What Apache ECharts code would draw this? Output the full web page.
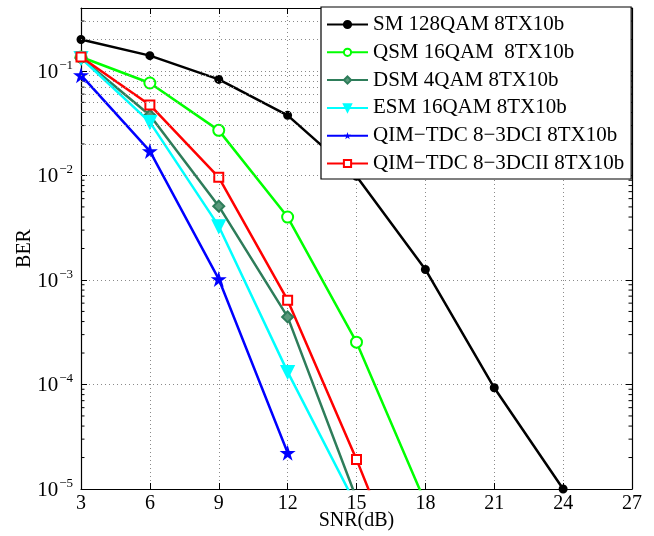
<!DOCTYPE html>
<html>
<head>
<meta charset="utf-8">
<script src="https://cdn.jsdelivr.net/npm/echarts@6/dist/echarts.min.js"></script>
<style>
  html, body { margin: 0; padding: 0; background: #fff; }
  #chart { width: 654px; height: 536px; }
</style>
</head>
<body>
<div id="chart"></div>
<script>
// SNR sweep (dB) and tick values
const snr = [3, 6, 9, 12, 15, 18, 21, 24];
const xTicks = [3, 6, 9, 12, 15, 18, 21, 24, 27];

// Bit error rate per scheme (last points of the steep curves run past the bottom edge)
const berSM   = [0.2, 0.14, 0.083, 0.0376, 0.0098, 1.26e-3, 9.3e-5, 1.0e-5];
const berQSM  = [0.136, 0.0766, 0.027, 0.004, 2.54e-4, 7.4e-6];
const berDSM  = [0.133, 0.0377, 0.00508, 4.43e-4, 8.1e-6];
const berESM  = [0.133, 0.0324, 0.00327, 1.32e-4, 6.9e-6];
const berQIM1 = [0.091, 0.0171, 1.02e-3, 2.22e-5];
const berQIM2 = [0.136, 0.0473, 0.0096, 6.4e-4, 1.92e-5, 4.4e-7];

const names = [
  'SM 128QAM 8TX10b',
  'QSM 16QAM  8TX10b',
  'DSM 4QAM 8TX10b',
  'ESM 16QAM 8TX10b',
  'QIM\u2212TDC 8\u22123DCI 8TX10b',
  'QIM\u2212TDC 8\u22123DCII 8TX10b'
];

const X_MIN = 3, X_MAX = 27;
const Y_MIN = 1e-5, Y_MAX = 0.4;

// Minor log grid values (2..9 times each decade) inside the y range
const minorGrid = [];
for (let e = -5; e <= -1; e++) {
  for (let m = 2; m <= 9; m++) {
    const v = m * Math.pow(10, e);
    if (v < Y_MAX) minorGrid.push(v);
  }
}

const FONT = 'Liberation Serif';
const pairs = (ys) => ys.map((y, i) => [snr[i], y]);
const STAR = 'path://M50,0 L61.2,34.5 L97.6,34.5 L68.2,55.9 L79.4,90.5 L50,69.1 L20.6,90.5 L31.8,55.9 L2.4,34.5 L38.8,34.5 Z';

function lineSeries(name, ys, color, symbol, size, fill, extra) {
  return Object.assign({
    name: name,
    type: 'line',
    data: pairs(ys),
    clip: true,
    symbol: symbol,
    symbolSize: size,
    showAllSymbol: true,
    lineStyle: { color: color, width: 2.5 },
    itemStyle: { color: fill, borderColor: color, borderWidth: 2 },
    emphasis: { disabled: true },
    animation: false,
    z: 3
  }, extra || {});
}

const dotted = { color: '#8a8a8a', width: 1, type: [1, 3] };

function powLabel(v) {
  const l = Math.log10(v);
  const e = Math.round(l);
  if (Math.abs(l - e) > 1e-6) return '';
  return '{b|10}{s|\u2212' + (-e) + '}';
}

// Short inward minor ticks on the left and right frame edges
function minorTickItem(params, api) {
  const v = api.value(1);
  const pl = api.coord([X_MIN, v]);
  const pr = api.coord([X_MAX, v]);
  const st = { stroke: '#000', lineWidth: 1 };
  return {
    type: 'group',
    children: [
      { type: 'line', shape: { x1: pl[0], y1: pl[1], x2: pl[0] + 3.5, y2: pl[1] }, style: st },
      { type: 'line', shape: { x1: pr[0] - 3.5, y1: pr[1], x2: pr[0], y2: pr[1] }, style: st }
    ]
  };
}

const chart = echarts.init(document.getElementById('chart'), null, { renderer: 'canvas' });
chart.setOption({
  backgroundColor: '#fff',
  animation: false,
  textStyle: { fontFamily: FONT },
  grid: { left: 81, right: 22, top: 8, bottom: 47, containLabel: false, outerBoundsMode: 'none' },
  legend: {
    data: names,
    orient: 'vertical',
    left: 321,
    top: 7,
    padding: [7, 7, 5, 5],
    itemGap: 6.8,
    itemWidth: 41,
    itemHeight: 9,
    backgroundColor: '#fff',
    borderColor: '#000',
    borderWidth: 1.2,
    textStyle: { fontFamily: FONT, fontSize: 21, color: '#000', lineHeight: 21 },
    selectedMode: false,
    z: 10
  },
  xAxis: [{
    type: 'value', min: X_MIN, max: X_MAX, interval: 3,
    name: 'SNR(dB)', nameLocation: 'middle', nameGap: 22, nameMoveOverlap: false,
    nameTextStyle: { fontFamily: FONT, fontSize: 20, color: '#000', verticalAlign: 'top' },
    axisLine: { show: true, onZero: false, lineStyle: { color: '#000', width: 1.2 } },
    axisTick: { show: true, inside: true, length: 6, lineStyle: { color: '#000' } },
    axisLabel: { fontFamily: FONT, fontSize: 20, color: '#000', margin: 5 },
    splitLine: { show: true, lineStyle: dotted }
  }, {
    type: 'value', min: X_MIN, max: X_MAX, interval: 3, position: 'top',
    axisLine: { show: true, onZero: false, lineStyle: { color: '#000', width: 1.2 } },
    axisTick: { show: true, inside: true, length: 6, lineStyle: { color: '#000' } },
    axisLabel: { show: false },
    splitLine: { show: false }
  }],
  yAxis: [{
    type: 'log', logBase: 10, min: Y_MIN, max: Y_MAX,
    name: 'BER', nameLocation: 'middle', nameGap: 46, nameRotate: 90, nameMoveOverlap: false,
    nameTextStyle: { fontFamily: FONT, fontSize: 20, color: '#000' },
    axisLine: { show: true, onZero: false, lineStyle: { color: '#000', width: 1.2 } },
    axisTick: { show: true, inside: true, length: 6, lineStyle: { color: '#000' } },
    axisLabel: {
      fontFamily: FONT, color: '#000', margin: 8,
      formatter: powLabel,
      rich: {
        b: { fontFamily: FONT, fontSize: 21, color: '#000', verticalAlign: 'bottom', lineHeight: 24 },
        s: { fontFamily: FONT, fontSize: 13, color: '#000', verticalAlign: 'top', lineHeight: 24, padding: [0, 0, 0, 1] }
      }
    },
    splitLine: { show: true, lineStyle: dotted }
  }, {
    type: 'log', logBase: 10, min: Y_MIN, max: Y_MAX, position: 'right',
    axisLine: { show: true, onZero: false, lineStyle: { color: '#000', width: 1.2 } },
    axisTick: { show: true, inside: true, length: 6, lineStyle: { color: '#000' } },
    axisLabel: { show: false },
    splitLine: { show: false }
  }],
  series: [
    {
      name: 'minor-grid',
      type: 'line',
      data: [],
      silent: true,
      markLine: {
        silent: true,
        symbol: 'none',
        label: { show: false },
        lineStyle: dotted,
        animation: false,
        data: minorGrid.map(v => ({ yAxis: v }))
      },
      z: 1
    },
    {
      name: 'minor-ticks',
      type: 'custom',
      silent: true,
      clip: false,
      renderItem: minorTickItem,
      data: minorGrid.map(v => [X_MIN, v]),
      z: 2
    },
    lineSeries(names[0], berSM, '#000000', 'circle', 7, '#000000'),
    lineSeries(names[1], berQSM, '#00ff00', 'circle', 11, '#ffffff'),
    lineSeries(names[2], berDSM, '#2e7d5a', 'diamond', 11, '#2e7d5a', { itemStyle: { color: '#5a9a7c', borderColor: '#2e7d5a', borderWidth: 2 } }),
    lineSeries(names[3], berESM, '#00ffff', 'triangle', 12, '#00ffff', { symbolRotate: 180 }),
    lineSeries(names[4], berQIM1, '#0000ff', STAR, 16, '#0000ff', { itemStyle: { color: '#0000ff', borderColor: '#0000ff', borderWidth: 0 } }),
    lineSeries(names[5], berQIM2, '#ff0000', 'rect', 9, '#ffffff')
  ]
});
</script>
</body>
</html>
